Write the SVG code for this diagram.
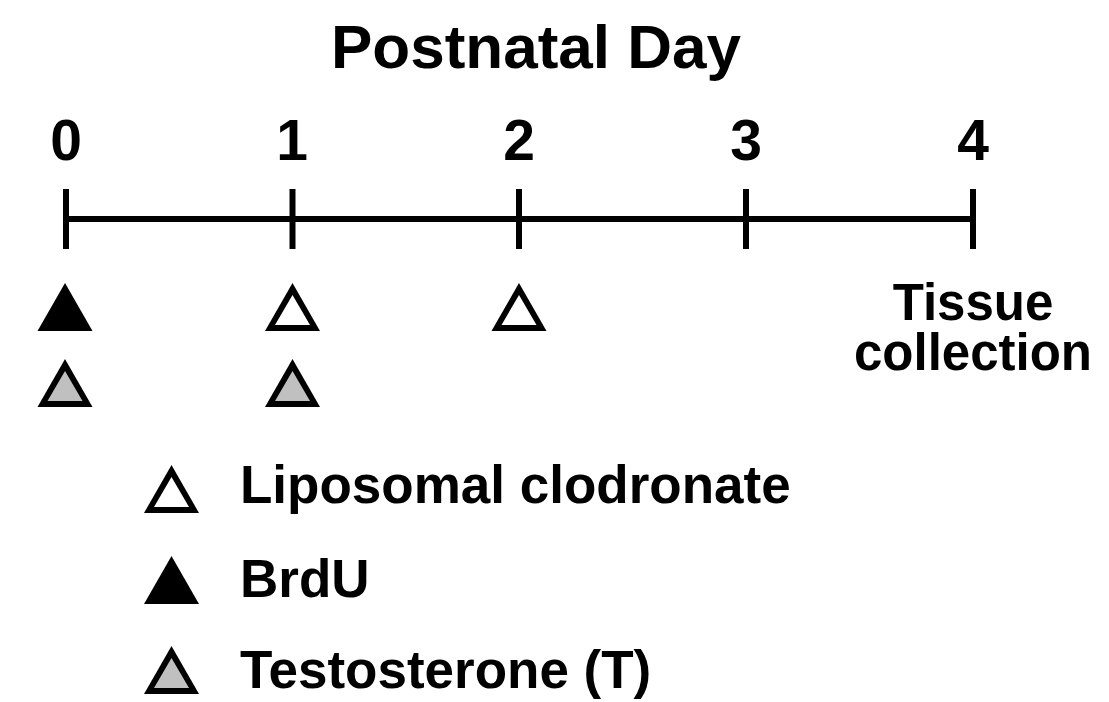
<svg xmlns="http://www.w3.org/2000/svg" width="1109" height="702" viewBox="0 0 1109 702">
<defs>
<style>
text{font-family:"Liberation Sans",Arial,sans-serif;font-weight:bold;fill:#000}
.title{font-size:62px}
.num{font-size:57px}
.lbl{font-size:51px}
.leg{font-size:53px}
.axis{stroke:#000;stroke-width:6;fill:none}
.out{fill:#000}
.white{fill:#fff}
.gray{fill:#c0c0c0}
</style>
<g id="tri-outline"><polygon class="out" points="0,0 27.5,48 -27.5,48"/></g>
<polygon id="tri-inner" points="0,12 17.5,42 -17.5,42"/>
</defs>
<rect width="1109" height="702" fill="#fff"/>
<g id="title"><text class="title" x="536" y="68" text-anchor="middle">Postnatal Day</text></g>
<g id="axis-labels">
<text class="num" x="66" y="160" text-anchor="middle">0</text>
<text class="num" x="292" y="160" text-anchor="middle">1</text>
<text class="num" x="519" y="160" text-anchor="middle">2</text>
<text class="num" x="746" y="160" text-anchor="middle">3</text>
<text class="num" x="973" y="160" text-anchor="middle">4</text>
</g>
<g id="connectors">
<line class="axis" x1="66" y1="219" x2="973" y2="219"/>
<line class="axis" x1="66" y1="189" x2="66" y2="249"/>
<line class="axis" x1="292.5" y1="189" x2="292.5" y2="249"/>
<line class="axis" x1="519" y1="189" x2="519" y2="249"/>
<line class="axis" x1="746" y1="189" x2="746" y2="249"/>
<line class="axis" x1="973" y1="189" x2="973" y2="249"/>
</g>
<g id="day0-brdu" transform="translate(65,283)"><use href="#tri-outline"/></g>
<g id="day0-t" transform="translate(65,359)"><use href="#tri-outline"/><use href="#tri-inner" class="gray"/></g>
<g id="day1-lc" transform="translate(292.5,283)"><use href="#tri-outline"/><use href="#tri-inner" class="white"/></g>
<g id="day1-t" transform="translate(292.5,359)"><use href="#tri-outline"/><use href="#tri-inner" class="gray"/></g>
<g id="day2-lc" transform="translate(519,283)"><use href="#tri-outline"/><use href="#tri-inner" class="white"/></g>
<g id="tissue"><text class="lbl" text-anchor="middle"><tspan x="973" y="320">Tissue</tspan><tspan x="973" y="370">collection</tspan></text></g>
<g id="legend-lc"><g transform="translate(171.5,465)"><use href="#tri-outline"/><use href="#tri-inner" class="white"/></g><text class="leg" x="240" y="503">Liposomal clodronate</text></g>
<g id="legend-brdu"><g transform="translate(171.5,556)"><use href="#tri-outline"/></g><text class="leg" x="240" y="597">BrdU</text></g>
<g id="legend-t"><g transform="translate(171.5,646)"><use href="#tri-outline"/><use href="#tri-inner" class="gray"/></g><text class="leg" x="240" y="688">Testosterone (T)</text></g>
</svg>
